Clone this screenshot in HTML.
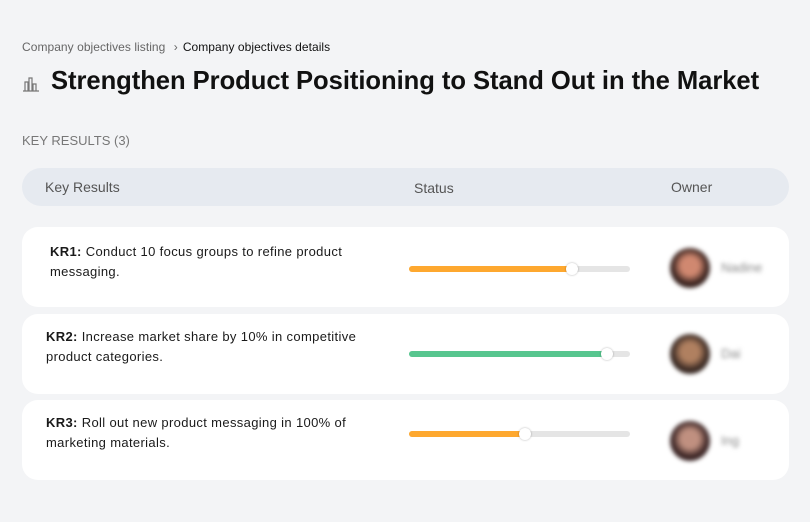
<!DOCTYPE html>
<html><head><style>
*{margin:0;padding:0;box-sizing:border-box}
body{width:810px;height:522px;background:#f3f4f6;font-family:"Liberation Sans",sans-serif;position:relative;overflow:hidden;color:#111}
.a{position:absolute}
.card{position:absolute;left:22px;width:767px;height:80px;background:#fff;border-radius:16px}
.kr{position:absolute;font-size:13px;line-height:20px;color:#1a1a1a;letter-spacing:0.35px}
.bar{position:absolute;left:409px;width:221px;height:6px;border-radius:3px;background:#e5e5e5}
.fill{position:absolute;left:0;top:0;height:6px;border-radius:3px}
.knob{position:absolute;top:-3px;width:12px;height:12px;border-radius:50%;background:#fff;box-shadow:0 0 2px rgba(0,0,0,.3)}
.av{position:absolute;left:670px;width:40px;height:40px;border-radius:50%;filter:blur(2px)}
.nm{position:absolute;font-size:13px;color:#888;filter:blur(2px)}
</style></head><body>
<div class="a" style="left:22px;top:40px;font-size:12px;color:#666;letter-spacing:0.05px">Company objectives listing <span style="margin:0 5px">›</span><span style="color:#111">Company objectives details</span></div>
<svg class="a" style="left:22px;top:76px" width="18" height="16" viewBox="0 0 18 16" fill="none" stroke="#777" stroke-width="1.2"><path d="M1 15h16M3 15V6h3v9M7 15V2h3v13M11 15V8h3v7"/></svg>
<div class="a" style="left:51px;top:67px;font-size:25.6px;font-weight:bold;letter-spacing:-0.05px">Strengthen Product Positioning to Stand Out in the Market</div>
<div class="a" style="left:22px;top:133px;font-size:13px;color:#777">KEY RESULTS (3)</div>
<div class="a" style="left:22px;top:168px;width:767px;height:38px;background:#e6eaf0;border-radius:19px"></div>
<div class="a" style="left:45px;top:179px;font-size:14px;color:#555">Key Results</div>
<div class="a" style="left:414px;top:180px;font-size:14px;color:#555">Status</div>
<div class="a" style="left:671px;top:179px;font-size:14px;color:#555">Owner</div>

<div class="card" style="top:227px"></div>
<div class="kr" style="left:50px;top:242px;width:320px"><b>KR1:</b> Conduct 10 focus groups to refine product messaging.</div>
<div class="bar" style="top:266px"><div class="fill" style="width:163px;background:#fea82f"></div><div class="knob" style="left:157px"></div></div>
<div class="av" style="top:248px;background:radial-gradient(circle at 50% 45%,#d08870 0 30%,#3a2420 60%)"></div>
<div class="nm" style="left:721px;top:260px">Nadine</div>

<div class="card" style="top:314px"></div>
<div class="kr" style="left:46px;top:327px;width:330px"><b>KR2:</b> Increase market share by 10% in competitive product categories.</div>
<div class="bar" style="top:351px"><div class="fill" style="width:198px;background:#57c68f"></div><div class="knob" style="left:192px"></div></div>
<div class="av" style="top:334px;background:radial-gradient(circle at 50% 45%,#b08060 0 30%,#3a2a24 60%)"></div>
<div class="nm" style="left:721px;top:346px">Dai</div>

<div class="card" style="top:400px"></div>
<div class="kr" style="left:46px;top:413px;width:330px"><b>KR3:</b> Roll out new product messaging in 100% of marketing materials.</div>
<div class="bar" style="top:431px"><div class="fill" style="width:116px;background:#fea82f"></div><div class="knob" style="left:110px"></div></div>
<div class="av" style="top:421px;background:radial-gradient(circle at 50% 45%,#c09080 0 30%,#3a2424 60%)"></div>
<div class="nm" style="left:721px;top:433px">Ing</div>
</body></html>
